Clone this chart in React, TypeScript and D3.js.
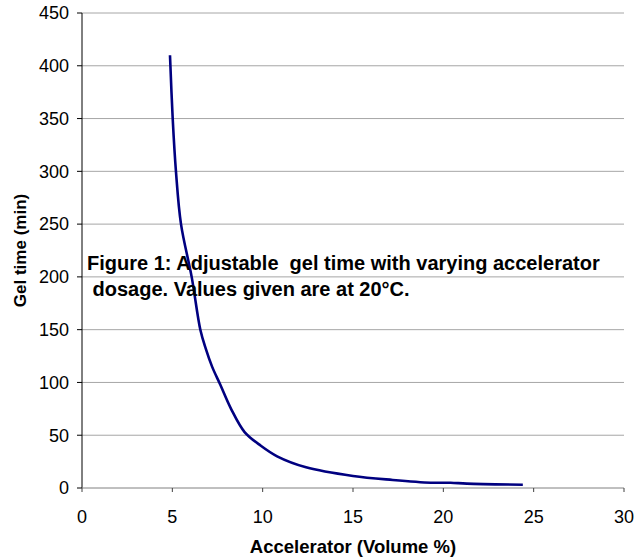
import React from 'react';
import * as d3 from 'd3';

// accelerator dosage (volume %) vs gel time (min)
const accelerator = [4.87, 5.02, 5.2, 5.48, 6.07, 6.55, 6.85, 7.2, 7.65, 8.25, 9.0, 9.9, 10.8, 12.4, 15.0, 17.2, 19.3, 20.4, 21.3, 24.4];
const gelTime = [410, 350, 300, 250, 200, 150, 132, 115, 98, 75, 53, 40, 30, 19.6, 11.4, 7.6, 5.0, 5.0, 4.1, 3.1];

const xTicks = [0, 5, 10, 15, 20, 25, 30];
const yTicks = [0, 50, 100, 150, 200, 250, 300, 350, 400, 450];

const captionLines = ['Figure 1: Adjustable  gel time with varying accelerator', ' dosage. Values given are at 20°C.'];

const W = 634;
const H = 557;
const font = 'Arial, "Liberation Sans", sans-serif';

export default function App() {
    const x = d3.scaleLinear().domain([0, 30]).range([82, 624]);
    const y = d3.scaleLinear().domain([0, 450]).range([488, 13]);

    const pts = accelerator.map((a, i) => [a, gelTime[i]] as [number, number]);
    const line = d3.line<[number, number]>()
        .x(d => x(d[0]))
        .y(d => y(d[1]))
        .curve(d3.curveCatmullRom.alpha(0.5));

    return (
        <svg width={W} height={H} style={{ position: 'absolute', left: 0, top: 0 }} fontFamily={font}>
            <rect width={W} height={H} fill="#fff" />

            {/* gridlines */}
            {yTicks.filter(t => t > 0).map(t => (
                <line key={t} x1={x(0)} x2={x(30)} y1={y(t)} y2={y(t)} stroke="#a6a6a6" strokeWidth={1} />
            ))}

            {/* y axis */}
            <line x1={x(0)} x2={x(0)} y1={y(450)} y2={y(0)} stroke="#000" strokeWidth={1} />
            {yTicks.map(t => (
                <g key={t}>
                    <line x1={x(0) - 5} x2={x(0)} y1={y(t)} y2={y(t)} stroke="#000" />
                    <text x={69} y={y(t)} dy="0.35em" textAnchor="end" fontSize={18} fill="#000">{t}</text>
                </g>
            ))}

            {/* x axis */}
            <line x1={x(0)} x2={x(30)} y1={y(0)} y2={y(0)} stroke="#808080" strokeWidth={1} />
            {xTicks.map(t => (
                <g key={t}>
                    <line x1={x(t)} x2={x(t)} y1={y(0)} y2={y(0) + 4} stroke="#404040" />
                    <text x={x(t)} y={523} textAnchor="middle" fontSize={18} fill="#000">{t}</text>
                </g>
            ))}

            <path d={line(pts) || ''} fill="none" stroke="#000080" strokeWidth={2.6} />

            {/* caption */}
            {captionLines.map((s, i) => (
                <text key={i} x={87} y={270 + i * 26} fontSize={20} fontWeight="bold" fill="#000" style={{ whiteSpace: 'pre' }}>{s}</text>
            ))}

            <text x={353} y={553} textAnchor="middle" fontSize={18.5} fontWeight="bold" fill="#000">Accelerator (Volume %)</text>
            <text transform={`translate(26,${(y(0) + y(450)) / 2}) rotate(-90)`} textAnchor="middle" fontSize={17} fontWeight="bold" fill="#000">Gel time (min)</text>
        </svg>
    );
}
